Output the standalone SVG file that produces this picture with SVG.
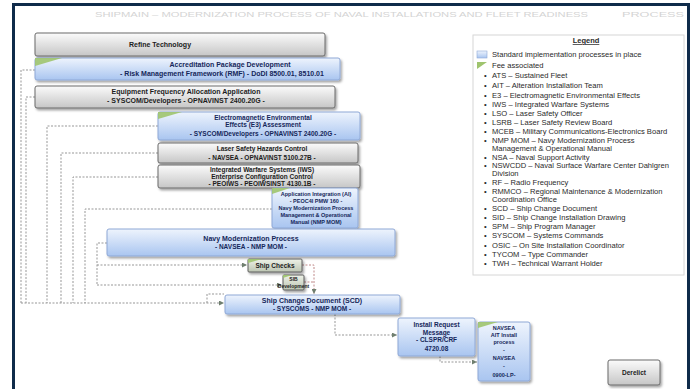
<svg xmlns="http://www.w3.org/2000/svg" width="693" height="389" viewBox="0 0 693 389">
<defs>
<linearGradient id="gGray" x1="0" y1="0" x2="0" y2="1"><stop offset="0" stop-color="#fbfbfb"/><stop offset="1" stop-color="#c6c6c6"/></linearGradient>
<linearGradient id="gBlue" x1="0" y1="0" x2="0" y2="1"><stop offset="0" stop-color="#eef4fd"/><stop offset="1" stop-color="#a9c5f0"/></linearGradient>
<linearGradient id="gGG" x1="0" y1="0" x2="0" y2="1"><stop offset="0" stop-color="#eef2e8"/><stop offset="1" stop-color="#bcc5b2"/></linearGradient>
<filter id="sh" x="-10%" y="-20%" width="130%" height="160%"><feDropShadow dx="1.5" dy="2" stdDeviation="1.2" flood-color="#000" flood-opacity="0.35"/></filter>
<marker id="ar" viewBox="0 0 6 6" refX="6" refY="3" markerWidth="5" markerHeight="5" orient="auto"><path d="M0,0 L6,3 L0,6 z" fill="#6f7f6f"/></marker>
</defs>
<style>
.gray{fill:url(#gGray);stroke:#6a6a6a;stroke-width:1;filter:url(#sh)}
.blue{fill:url(#gBlue);stroke:#8ea8d6;stroke-width:1;filter:url(#sh)}
.gg{fill:url(#gGG);stroke:#5e5e5e;stroke-width:1;filter:url(#sh)}
.corner{fill:#9fc46e;opacity:0.9}
.t{font-family:"Liberation Sans",Arial,sans-serif;font-weight:bold;font-size:7px;text-anchor:middle;fill:#1c1c1c}
.tb{font-family:"Liberation Sans",Arial,sans-serif;font-weight:bold;font-size:7px;text-anchor:middle;fill:#15275a}
.s{font-size:6.5px}
.xs{font-size:5.5px}
.c{fill:none;stroke:#979797;stroke-width:1;stroke-dasharray:2,1.5}
.cr{fill:none;stroke:#c08a8a;stroke-width:1;stroke-dasharray:2,1.5}
.lg{font-family:"Liberation Sans",Arial,sans-serif;font-size:7.6px;fill:#2a2a2a}
</style>
<rect x="13.5" y="4.5" width="675" height="400" fill="#ffffff" stroke="#0f2b4a" stroke-width="3"/>
<text x="95" y="17" font-family="Liberation Sans, Arial, sans-serif" font-size="8" fill="#d4d4d4" textLength="493" lengthAdjust="spacingAndGlyphs">SHIPMAIN – MODERNIZATION PROCESS OF NAVAL INSTALLATIONS AND FLEET READINESS</text>
<text x="622" y="17" font-family="Liberation Sans, Arial, sans-serif" font-size="8" fill="#d4d4d4" textLength="62" lengthAdjust="spacingAndGlyphs">PROCESS</text>

<g id="connectors">
<path class="c" d="M35,70 H21 V303"/>
<path class="c" d="M35,97 H26 V303"/>
<path class="c" d="M158,126 H47 V303"/>
<path class="c" d="M158,153 H61 V303"/>
<path class="c" d="M158,177 H73 V303"/>
<path class="c" d="M272,209 H85 V303"/>
<path class="c" d="M21,303 H224" marker-end="url(#ar)"/>
<path class="c" d="M207,303 V294 H224"/>
<path class="c" d="M107,243 H97 V285"/>
<path class="c" d="M97,265 H247" marker-end="url(#ar)"/>
<path class="c" d="M97,285 H282" marker-end="url(#ar)"/>
<path class="cr" d="M302,265 H314 V294" marker-end="url(#ar)"/>
<path class="cr" d="M304,282 H314"/>
<path class="c" d="M335,314 V335 H397" marker-end="url(#ar)"/>
<path class="c" d="M440,356 V362 H477" marker-end="url(#ar)"/>
</g>

<g id="refine">
<rect class="gray" x="35" y="33" width="290" height="23" rx="2"/>
<text class="t" x="160" y="47">Refine Technology</text>
</g>
<g id="accreditation">
<rect class="blue" x="35" y="58" width="305" height="22" rx="2"/>
<polygon class="corner" points="35,58 62,58 35,66"/>
<text class="tb" x="230" y="66.5">Accreditation Package Development</text>
<text class="tb" x="222" y="75.5">- Risk Management Framework (RMF) - DoDI 8500.01, 8510.01</text>
</g>
<g id="equipment">
<rect class="gray" x="35" y="86" width="300" height="22" rx="2"/>
<text class="t" x="186" y="94">Equipment Frequency Allocation Application</text>
<text class="t" x="186" y="103">- SYSCOM/Developers - OPNAVINST 2400.20G -</text>
</g>
<g id="e3">
<rect class="blue" x="158" y="112" width="202" height="28" rx="2"/>
<polygon class="corner" points="158,112 182,112 158,119"/>
<text class="tb s" x="263" y="119.5">Electromagnetic Environmental</text>
<text class="tb s" x="263" y="127">Effects (E3) Assessment</text>
<text class="tb s" x="263" y="135.5">- SYSCOM/Developers - OPNAVINST 2400.20G -</text>
</g>
<g id="laser">
<rect class="gray" x="158" y="143" width="200" height="20" rx="2"/>
<text class="t s" x="262" y="151">Laser Safety Hazards Control</text>
<text class="t s" x="262" y="159.5">- NAVSEA - OPNAVINST 5100.27B -</text>
</g>
<g id="iws">
<rect class="gray" x="158" y="165" width="202" height="23" rx="2"/>
<text class="t s" x="262" y="171.5">Integrated Warfare Systems (IWS)</text>
<text class="t s" x="262" y="178.5">Enterprise Configuration Control</text>
<text class="t s" x="262" y="185.5">- PEOIWS - PEOIWSINST 4130.1B -</text>
</g>
<g id="ai">
<rect class="blue" x="272" y="188" width="86" height="40" rx="2"/>
<polygon class="corner" points="272,188 290,188 272,194"/>
<text class="tb xs" x="316" y="195.5">Application Integration (AI)</text>
<text class="tb xs" x="316" y="202.5">- PEOC4I PMW 160 -</text>
<text class="tb xs" x="316" y="209.5">Navy Modernization Process</text>
<text class="tb xs" x="316" y="216.5">Management &amp; Operational</text>
<text class="tb xs" x="316" y="223.5">Manual (NMP MOM)</text>
</g>
<g id="nmp">
<rect class="blue" x="107" y="229" width="288" height="27" rx="2"/>
<text class="tb" x="251" y="241">Navy Modernization Process</text>
<text class="tb s" x="251" y="249">- NAVSEA - NMP MOM -</text>
</g>
<g id="shipchecks">
<rect class="gg" x="248" y="259" width="54" height="13" rx="1"/>
<polygon class="corner" points="248,259 262,259 248,263"/>
<text class="t s" x="275" y="268">Ship Checks</text>
</g>
<g id="sib">
<rect class="gg" x="283" y="275" width="21" height="15" rx="1"/>
<polygon class="corner" points="283,275 292,275 283,278"/>
<text class="t" x="293.5" y="281" style="font-size:5px">SIB</text>
<text class="t" x="293.5" y="288" style="font-size:5px">Development</text>
</g>
<g id="scd">
<rect class="blue" x="225" y="295" width="175" height="19" rx="2"/>
<text class="tb" x="312" y="302.5">Ship Change Document (SCD)</text>
<text class="tb s" x="312" y="311">- SYSCOMS - NMP MOM -</text>
</g>
<g id="install">
<rect class="blue" x="398" y="318" width="77" height="38" rx="2"/>
<text class="tb s" x="436.5" y="327">Install Request</text>
<text class="tb s" x="436.5" y="335">Message</text>
<text class="tb s" x="436.5" y="342">- CLSPR/CRF</text>
<text class="tb s" x="436.5" y="351">4720.08</text>
</g>
<g id="navsea">
<rect class="blue" x="478" y="322" width="52" height="59" rx="2"/>
<polygon class="corner" points="478,322 498,322 478,328"/>
<text class="tb xs" x="504" y="330">NAVSEA</text>
<text class="tb xs" x="504" y="337">AIT Install</text>
<text class="tb xs" x="504" y="344">process</text>
<text class="tb xs" x="504" y="352">-</text>
<text class="tb xs" x="504" y="360">NAVSEA</text>
<text class="tb xs" x="504" y="368">-</text>
<text class="tb xs" x="504" y="377">0900-LP-</text>
</g>
<g id="derelict">
<rect class="gray" x="608" y="360" width="52" height="25" rx="2"/>
<text class="t s" x="634" y="375">Derelict</text>
</g>

<g id="legend">
<rect x="473" y="35" width="211" height="240" fill="#ffffff" stroke="#d6d6d6" stroke-width="1"/>
<text x="586" y="43" font-family="Liberation Sans, Arial, sans-serif" font-size="7.5" font-weight="bold" text-anchor="middle" fill="#2a2a2a" text-decoration="underline">Legend</text>
<rect x="477" y="51" width="10" height="7" fill="url(#gBlue)" stroke="#8ea8d6" stroke-width="0.6"/>
<text class="lg" x="492" y="57">Standard implementation processes in place</text>
<polygon points="477,62 487,62 477,69" fill="#9fc46e"/>
<text class="lg" x="492" y="67.5">Fee associated</text>
<g class="lg">
<text x="484" y="77.5">•</text><text x="492" y="77.5">ATS – Sustained Fleet</text>
<text x="484" y="87.5">•</text><text x="492" y="87.5">AIT – Alteration Installation Team</text>
<text x="484" y="97.5">•</text><text x="492" y="97.5">E3 – Electromagnetic Environmental Effects</text>
<text x="484" y="107">•</text><text x="492" y="107">IWS – Integrated Warfare Systems</text>
<text x="484" y="116">•</text><text x="492" y="116">LSO – Laser Safety Officer</text>
<text x="484" y="125">•</text><text x="492" y="125">LSRB – Laser Safety Review Board</text>
<text x="484" y="134">•</text><text x="492" y="134">MCEB – Military Communications-Electronics Board</text>
<text x="484" y="143">•</text><text x="492" y="143">NMP MOM – Navy Modernization Process</text>
<text x="492" y="150.5">Management &amp; Operational Manual</text>
<text x="484" y="160">•</text><text x="492" y="160">NSA – Naval Support Activity</text>
<text x="484" y="168">•</text><text x="492" y="168">NSWCDD – Naval Surface Warfare Center Dahlgren</text>
<text x="492" y="175.5">Division</text>
<text x="484" y="185">•</text><text x="492" y="185">RF – Radio Frequency</text>
<text x="484" y="194">•</text><text x="492" y="194">RMMCO – Regional Maintenance &amp; Modernization</text>
<text x="492" y="201.5">Coordination Office</text>
<text x="484" y="211">•</text><text x="492" y="211">SCD – Ship Change Document</text>
<text x="484" y="220">•</text><text x="492" y="220">SID – Ship Change Installation Drawing</text>
<text x="484" y="229">•</text><text x="492" y="229">SPM – Ship Program Manager</text>
<text x="484" y="238">•</text><text x="492" y="238">SYSCOM – Systems Commands</text>
<text x="484" y="248">•</text><text x="492" y="248">OSIC – On Site Installation Coordinator</text>
<text x="484" y="257">•</text><text x="492" y="257">TYCOM – Type Commander</text>
<text x="484" y="266">•</text><text x="492" y="266">TWH – Technical Warrant Holder</text>
</g>
</g>
</svg>
